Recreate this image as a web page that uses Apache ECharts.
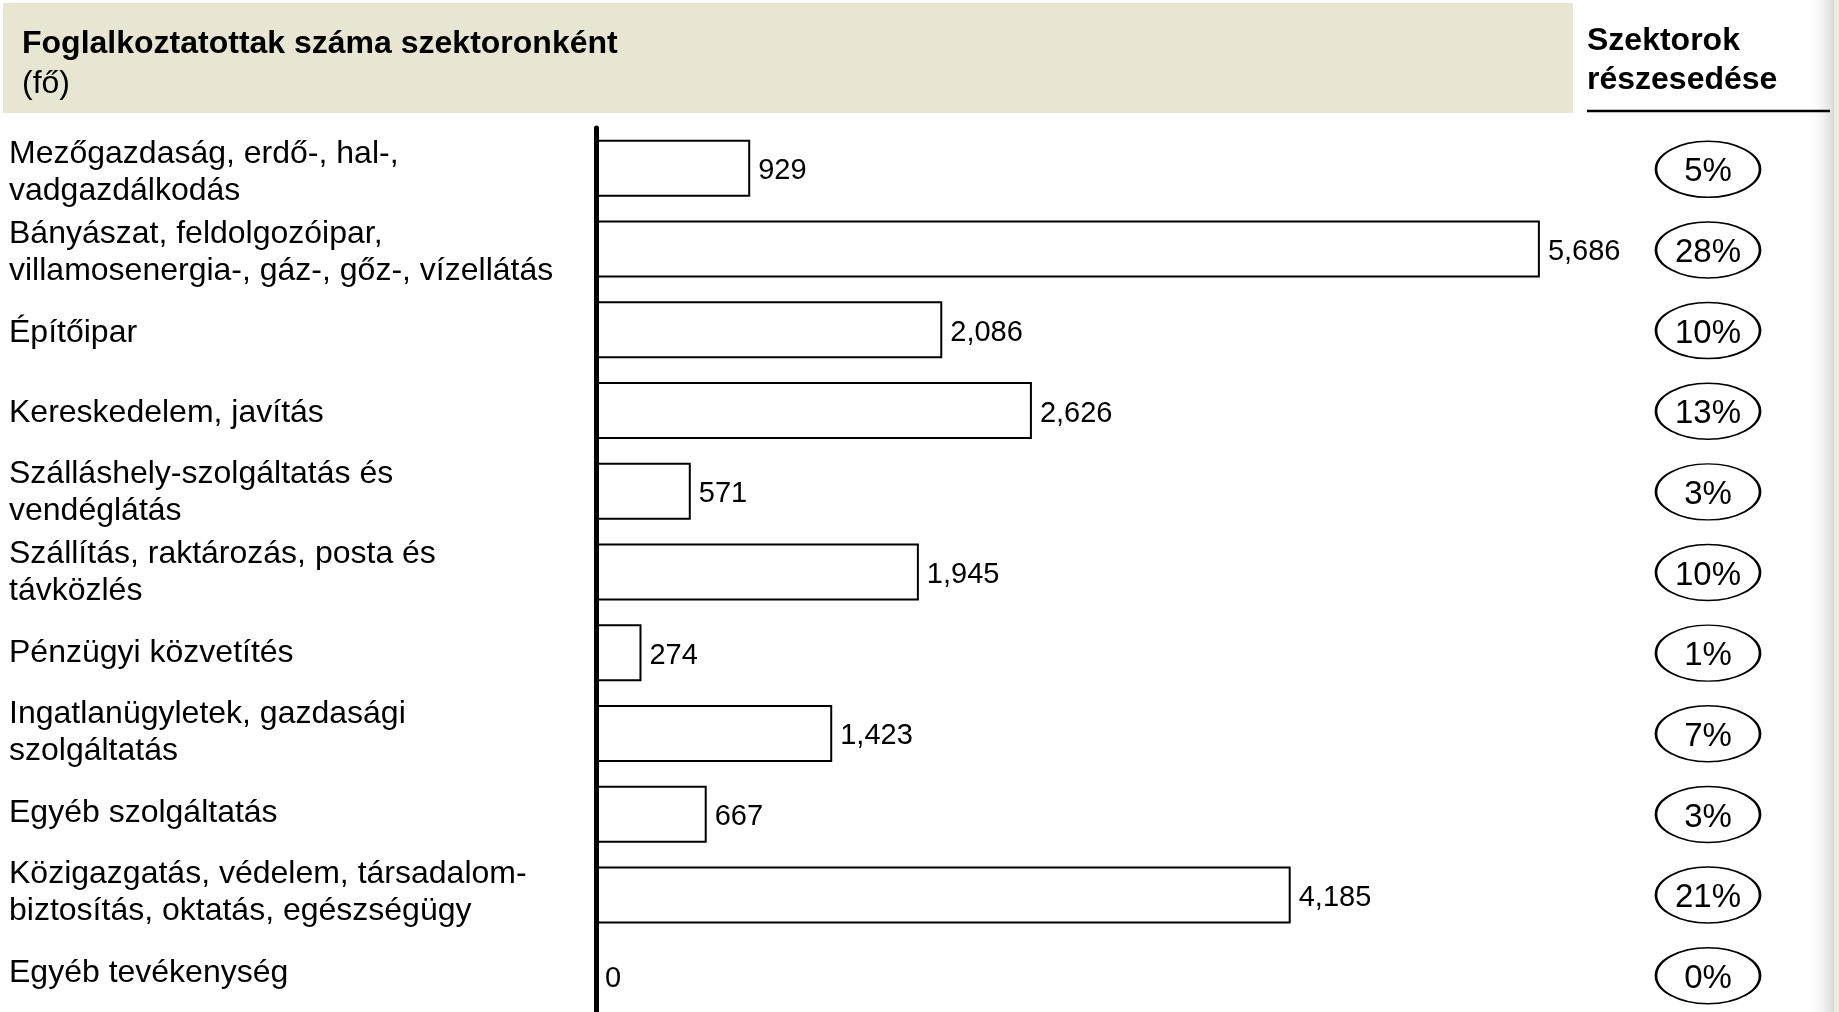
<!DOCTYPE html>
<html>
<head>
<meta charset="utf-8">
<title>Foglalkoztatottak száma szektoronként</title>
<script src="https://cdn.jsdelivr.net/npm/echarts@6/dist/echarts.min.js"></script>
<style>
  html, body { margin: 0; padding: 0; background: #fff; }
  #mChart { width: 1839px; height: 1012px; }
</style>
</head>
<body>
<div id="mChart"></div>
<script>
// szektorok
var sectorList = [
  'Mezőgazdaság, erdő-, hal-,\nvadgazdálkodás',
  'Bányászat, feldolgozóipar,\nvillamosenergia-, gáz-, gőz-, vízellátás',
  'Építőipar',
  'Kereskedelem, javítás',
  'Szálláshely-szolgáltatás és\nvendéglátás',
  'Szállítás, raktározás, posta és\ntávközlés',
  'Pénzügyi közvetítés',
  'Ingatlanügyletek, gazdasági\nszolgáltatás',
  'Egyéb szolgáltatás',
  'Közigazgatás, védelem, társadalom-\nbiztosítás, oktatás, egészségügy',
  'Egyéb tevékenység'
];
// foglalkoztatottak (fő)
var employeeList = [929, 5686, 2086, 2626, 571, 1945, 274, 1423, 667, 4185, 0];
// részesedés (%)
var shareList = [5, 28, 10, 13, 3, 10, 1, 7, 3, 21, 0];

var font = "'Liberation Sans', Arial, sans-serif";

var myChart = echarts.init(document.getElementById('mChart'));
myChart.setOption({
  backgroundColor: '#fff',
  animation: false,
  graphic: [
    {
      type: 'rect', z: -10,
      shape: { x: 3, y: 3, width: 1570, height: 110 },
      style: { fill: '#e8e6d3' }
    },
    {
      type: 'text', left: 22, top: 28,
      style: { text: 'Foglalkoztatottak száma szektoronként', font: 'bold 32px ' + font, fill: '#000' }
    },
    {
      type: 'text', left: 22, top: 68,
      style: { text: '(fő)', font: '32px ' + font, fill: '#000' }
    },
    {
      type: 'text', left: 1587, top: 25,
      style: { text: 'Szektorok', font: 'bold 32px ' + font, fill: '#000' }
    },
    {
      type: 'text', left: 1587, top: 64,
      style: { text: 'részesedése', font: 'bold 32px ' + font, fill: '#000' }
    },
    {
      type: 'line',
      shape: { x1: 1587, y1: 111, x2: 1830, y2: 111 },
      style: { stroke: '#000', lineWidth: 2.5 }
    },
    // jobb szélső árnyék
    {
      type: 'rect', z: -10,
      shape: { x: 1806, y: 0, width: 28, height: 1012 },
      style: {
        fill: new echarts.graphic.LinearGradient(0, 0, 1, 0, [
          { offset: 0, color: 'rgba(255,255,255,0)' },
          { offset: 1, color: '#d9d9d9' }
        ])
      }
    },
    {
      type: 'rect', z: -10,
      shape: { x: 1834, y: 0, width: 5, height: 1012 },
      style: { fill: '#e9efdc' }
    }
  ],
  grid: [
    // oszlopok
    { left: 596, top: 128, width: 996, height: 888, outerBoundsMode: 'none' },
    // ellipszisek
    { left: 1656, top: 129, width: 104, height: 887, outerBoundsMode: 'none' },
    // feliratok
    { left: 596, top: 133, width: 996, height: 880, outerBoundsMode: 'none' }
  ],
  xAxis: [
    { gridIndex: 0, type: 'value', min: 0, max: 6000, show: false },
    { gridIndex: 1, type: 'value', min: 0, max: 1, show: false },
    { gridIndex: 2, type: 'value', min: 0, max: 1, show: false }
  ],
  yAxis: [
    {
      gridIndex: 0,
      type: 'category',
      inverse: true,
      data: sectorList,
      z: 5,
      axisLine: { show: true, lineStyle: { color: '#000', width: 5 } },
      axisTick: { show: false },
      splitLine: { show: false },
      axisLabel: { show: false }
    },
    {
      gridIndex: 1,
      type: 'category',
      inverse: true,
      data: sectorList,
      show: false
    },
    {
      gridIndex: 2,
      type: 'category',
      inverse: true,
      data: sectorList,
      axisLine: { show: false },
      axisTick: { show: false },
      splitLine: { show: false },
      axisLabel: {
        interval: 0,
        showMinLabel: true,
        showMaxLabel: true,
        hideOverlap: false,
        align: 'left',
        margin: 587,
        color: '#000',
        fontFamily: font,
        fontSize: 32,
        lineHeight: 37
      }
    }
  ],
  series: [
    {
      name: 'Foglalkoztatottak',
      type: 'bar',
      xAxisIndex: 0,
      yAxisIndex: 0,
      barWidth: 57,
      itemStyle: { color: '#fff', borderColor: '#000', borderWidth: 2 },
      label: {
        show: true,
        position: 'right',
        distance: 8,
        offset: [0, 3],
        color: '#000',
        fontFamily: font,
        fontSize: 29,
        formatter: function (p) { return p.value.toLocaleString('en-US'); }
      },
      data: employeeList
    },
    {
      name: 'Részesedés',
      type: 'scatter',
      xAxisIndex: 1,
      yAxisIndex: 1,
      symbol: 'circle',
      symbolSize: [104, 56],
      itemStyle: { color: '#fff', borderColor: '#000', borderWidth: 2, opacity: 1 },
      label: {
        show: true,
        position: 'inside',
        offset: [0, 3],
        color: '#000',
        fontFamily: font,
        fontSize: 33,
        formatter: function (p) { return shareList[p.dataIndex] + '%'; }
      },
      data: shareList.map(function (v, i) { return [0.5, i]; })
    }
  ]
});
</script>
</body>
</html>
